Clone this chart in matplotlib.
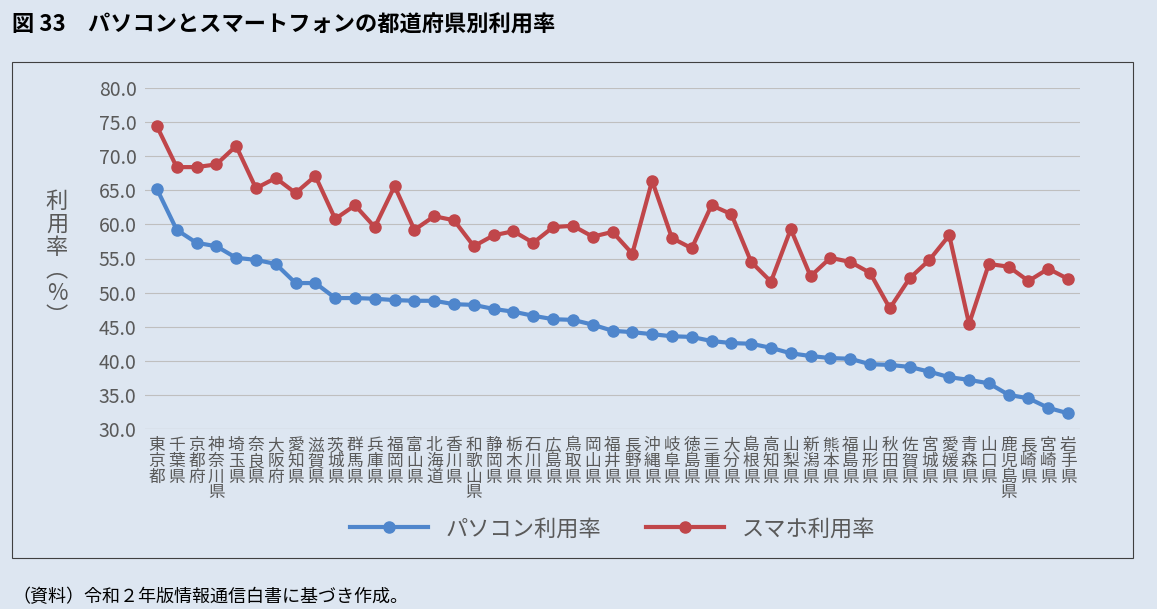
import matplotlib
matplotlib.use("Agg")
import matplotlib.pyplot as plt
from matplotlib.patches import Rectangle

plt.rcParams['font.family'] = ['Noto Sans CJK JP', 'DejaVu Sans']

prefectures = ["東京都", "千葉県", "京都府", "神奈川県", "埼玉県", "奈良県", "大阪府", "愛知県",
               "滋賀県", "茨城県", "群馬県", "兵庫県", "福岡県", "富山県", "北海道", "香川県",
               "和歌山県", "静岡県", "栃木県", "石川県", "広島県", "鳥取県", "岡山県", "福井県",
               "長野県", "沖縄県", "岐阜県", "徳島県", "三重県", "大分県", "島根県", "高知県",
               "山梨県", "新潟県", "熊本県", "福島県", "山形県", "秋田県", "佐賀県", "宮城県",
               "愛媛県", "青森県", "山口県", "鹿児島県", "長崎県", "宮崎県", "岩手県"]
pc_rate = [65.2, 59.2, 57.3, 56.8, 55.1, 54.8, 54.2, 51.4, 51.4, 49.2, 49.2, 49.1, 48.9, 48.8,
           48.8, 48.3, 48.2, 47.6, 47.2, 46.6, 46.1, 46.0, 45.3, 44.4, 44.2, 43.9, 43.6, 43.5,
           42.9, 42.6, 42.5, 41.9, 41.1, 40.7, 40.4, 40.3, 39.5, 39.4, 39.1, 38.4, 37.6, 37.2,
           36.7, 35.0, 34.5, 33.1, 32.3]
sp_rate = [74.4, 68.4, 68.4, 68.8, 71.5, 65.3, 66.8, 64.6, 67.1, 60.8, 62.8, 59.6, 65.6, 59.2,
           61.2, 60.6, 56.8, 58.4, 59.0, 57.3, 59.6, 59.8, 58.2, 58.9, 55.7, 66.4, 58.0, 56.5,
           62.8, 61.5, 54.5, 51.6, 59.3, 52.4, 55.1, 54.5, 52.9, 47.7, 52.1, 54.8, 58.4, 45.4,
           54.2, 53.8, 51.7, 53.5, 52.0]
yticks = [30, 35, 40, 45, 50, 55, 60, 65, 70, 75, 80]

bg = "#dde6f1"
gray = "#595959"
fig = plt.figure(figsize=(11.57, 6.09), dpi=100, facecolor=bg)
fig.patches.append(Rectangle((12 / 1157, 1 - 558 / 609), 1121 / 1157, 496 / 609,
                             transform=fig.transFigure, fill=False, ec="#404040", lw=0.8))
fig.text(12 / 1157, 1 - 25 / 609, "図 33　パソコンとスマートフォンの都道府県別利用率",
         fontsize=16, va="center", color="black", fontweight="bold")
fig.text(12 / 1157, 1 - 597 / 609, "（資料）令和２年版情報通信白書に基づき作成。",
         fontsize=13, va="center", color="black")

ax = fig.add_axes([145 / 1157, 1 - 429 / 609, 935 / 1157, 341 / 609])
ax.set_facecolor(bg)
x = list(range(len(prefectures)))
ax.plot(x, pc_rate, color="#4f86cc", lw=3, marker="o", ms=8, label="パソコン利用率")
ax.plot(x, sp_rate, color="#c0464a", lw=3, marker="o", ms=8, label="スマホ利用率")
ax.set_ylim(30, 80)
ax.set_xlim(-0.6, len(prefectures) - 0.4)
ax.set_yticks(yticks)
ax.set_yticklabels([f"{v:.1f}" for v in yticks], fontsize=14, color=gray)
ax.set_xticks(x)
ax.set_xticklabels(["\n".join(p) for p in prefectures], fontsize=12, color=gray,
                   linespacing=0.9, va="top")
ax.tick_params(length=0, pad=6)
ax.grid(axis="y", color="#bfbfbf", lw=0.8)
ax.set_axisbelow(True)
for s in ax.spines.values():
    s.set_visible(False)
ax.axhline(30, color="#bfbfbf", lw=0.8)
ax.set_ylabel("利\n用\n率\n︵\n%\n︶", rotation=0, fontsize=16, color=gray,
              va="center", labelpad=30, linespacing=1.0)
ax.legend(loc="upper center", bbox_to_anchor=(0.5, -0.2), ncol=2, frameon=False,
          fontsize=16, labelcolor=gray, handlelength=3.5, columnspacing=2)
fig.savefig("out.png", dpi=100, facecolor=bg)
